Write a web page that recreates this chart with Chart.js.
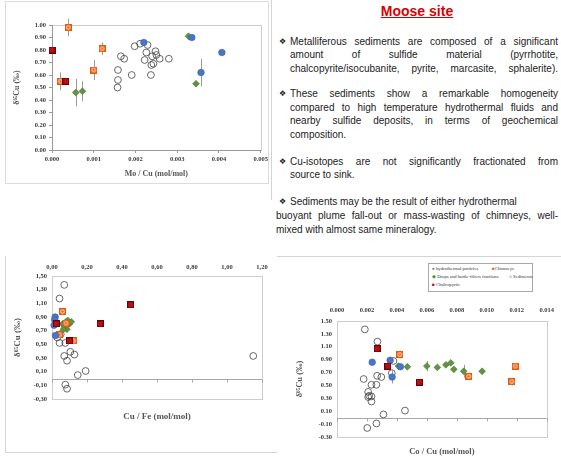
<!DOCTYPE html>
<html>
<head>
<meta charset="utf-8">
<script src="https://cdn.jsdelivr.net/npm/chart.js"></script>
<style>
  body { margin: 0; width: 561px; height: 461px; overflow: hidden; position: relative; background: #fff;
         font-family: "Liberation Sans", Arial, sans-serif; color: #222; }
  .abs { position: absolute; }
  .rule { position: absolute; background: #d4d4d4; }
  .tl { position: absolute; font-size: 10px; line-height: 13px; white-space: nowrap; }
  .just { text-align: justify; text-align-last: justify; }
  .bul { position: absolute; left: 279px; font: 8px "DejaVu Sans", sans-serif; line-height: 13px; }
  #title { left: 280px; width: 274px; top: 3px; text-align: center; font: bold 14px "Liberation Sans", Arial, sans-serif;
           color: #d90000; text-decoration: underline; }
  #legend { left: 428px; top: 263px; width: 105px; height: 29px; box-sizing: border-box; border: 1px solid #a9a9a9;
            background: #fff; font: 4.7px "Liberation Serif", serif; color: #333; }
  #legend span { position: absolute; white-space: nowrap; }
  canvas { position: absolute; }
</style>
</head>
<body>

<!-- panel frames -->
<div class="abs" style="left:5px;top:1px;width:264px;height:183px;border:1px solid #dcdcdc;box-sizing:border-box"></div>
<div class="rule" style="left:271px;top:0;width:1px;height:200px"></div>
<div class="rule" style="left:5px;top:256px;width:1px;height:196px"></div>
<div class="rule" style="left:5px;top:452px;width:272px;height:1px"></div>
<div class="rule" style="left:277px;top:256px;width:284px;height:1px"></div>

<!-- text block -->
<div id="title" class="abs">Moose site</div>

<span class="bul" style="top:35px">❖</span>
<div class="tl just" style="left:290px;width:268px;top:35px">Metalliferous sediments are composed of a significant</div>
<div class="tl just" style="left:290px;width:268px;top:48px">amount of sulfide material (pyrrhotite,</div>
<div class="tl just" style="left:290px;width:268px;top:62px">chalcopyrite/isocubanite, pyrite, marcasite, sphalerite).</div>

<span class="bul" style="top:87px">❖</span>
<div class="tl just" style="left:290px;width:268px;top:87px">These sediments show a remarkable homogeneity</div>
<div class="tl just" style="left:290px;width:268px;top:101px">compared to high temperature hydrothermal fluids and</div>
<div class="tl just" style="left:290px;width:268px;top:114px">nearby sulfide deposits, in terms of geochemical</div>
<div class="tl" style="left:290px;top:128px">composition.</div>

<span class="bul" style="top:155px">❖</span>
<div class="tl just" style="left:290px;width:268px;top:155px">Cu-isotopes are not significantly fractionated from</div>
<div class="tl" style="left:290px;top:168px">source to sink.</div>

<span class="bul" style="top:195px">❖</span>
<div class="tl" style="left:290px;top:195px">Sediments may be the result of either hydrothermal</div>
<div class="tl just" style="left:276px;width:282px;top:209px">buoyant plume fall-out or mass-wasting of chimneys, well-</div>
<div class="tl" style="left:276px;top:223px">mixed with almost same mineralogy.</div>

<canvas id="moCuChart" width="265" height="181" style="left:5px;top:3px"></canvas>
<canvas id="cuFeChart" width="268" height="196" style="left:5px;top:256px"></canvas>
<canvas id="coCuChart" width="271" height="205" style="left:290px;top:256px"></canvas>

<div id="legend" class="abs">
  <span style="left:3px;top:2px"><b style="color:#4a74c6">●</b> hydrothermal particles</span>
  <span style="left:63px;top:2px"><b style="color:#f06a1e">■</b>Chimneys</span>
  <span style="left:3px;top:10px"><b style="color:#5f9440">◆</b> Drops and bottle-filters fractions</span>
  <span style="left:80px;top:10px">○ Sediments</span>
  <span style="left:3px;top:18px"><b style="color:#b01018">■</b> Chalcopyrite</span>
</div>

<script>
// ---- Mo / Cu panel: [x, y, error]
const moCuHydro = [[0.0022, 0.86, 0], [0.00335, 0.90, 0.02], [0.00357, 0.62, 0.11], [0.00407, 0.78, 0]];
const moCuChimneys = [[0.0002, 0.55, 0.07], [0.00039, 0.98, 0.07], [0.001, 0.64, 0.08], [0.0012, 0.81, 0.05]];
const moCuDrops = [[0.00057, 0.46, 0.11], [0.00073, 0.47, 0.08], [0.00327, 0.91, 0.02], [0.00345, 0.53, 0]];
const moCuSediments = [[0.00158, 0.64], [0.00158, 0.56], [0.00157, 0.50], [0.00165, 0.75], [0.00173, 0.73],
  [0.00191, 0.60], [0.00198, 0.83], [0.00211, 0.85], [0.00229, 0.84], [0.00226, 0.78], [0.00222, 0.72],
  [0.00237, 0.60], [0.00238, 0.68], [0.00243, 0.69], [0.0024, 0.75], [0.00248, 0.79], [0.0025, 0.76],
  [0.00258, 0.73], [0.0028, 0.73]];
const moCuChalco = [[0, 0.80, 0], [0.00033, 0.55, 0]];
const moCuXTicks = [0, 0.001, 0.002, 0.003, 0.004, 0.005];
const moCuYTicks = [0, 0.1, 0.2, 0.3, 0.4, 0.5, 0.6, 0.7, 0.8, 0.9, 1.0];

// ---- Cu / Fe panel
const cuFeHydro = [[0.018, 0.90], [0.015, 0.86], [0.012, 0.78], [0.02, 0.63]];
const cuFeChimneys = [[0.06, 0.98], [0.124, 0.55], [0.043, 0.64], [0.08, 0.81]];
const cuFeDrops = [[0.06, 0.80], [0.07, 0.77], [0.08, 0.83], [0.09, 0.85], [0.10, 0.80], [0.11, 0.83],
  [0.075, 0.75], [0.085, 0.72], [0.065, 0.72]];
const cuFeSediments = [[0.07, 1.37], [0.043, 1.17], [0.043, 0.52], [0.076, 0.52], [0.07, 0.33], [0.086, 0.26],
  [0.105, 0.39], [0.128, 0.35], [0.147, 0.05], [0.192, 0.11], [0.076, -0.09], [0.086, -0.15], [1.15, 0.33],
  [0.03, 0.60], [0.05, 0.65]];
const cuFeChalco = [[0.275, 0.80], [0.45, 1.08], [0.10, 0.55], [0.025, 0.80]];
const cuFeXTicks = [0, 0.2, 0.4, 0.6, 0.8, 1.0, 1.2];
const cuFeYTicks = [-0.3, -0.1, 0.1, 0.3, 0.5, 0.7, 0.9, 1.1, 1.3, 1.5];

// ---- Co / Cu panel
const coCuHydro = [[0.00235, 0.86, 0], [0.00355, 0.89, 0.03], [0.00368, 0.63, 0.10], [0.00423, 0.79, 0]];
const coCuChimneys = [[0.00419, 0.98, 0.06], [0.0088, 0.64, 0.06], [0.0119, 0.80, 0.05], [0.01167, 0.56, 0.06]];
const coCuDrops = [[0.0041, 0.80, 0], [0.0047, 0.79, 0], [0.006, 0.80, 0.08], [0.0067, 0.78, 0],
  [0.00727, 0.82, 0.04], [0.0076, 0.85, 0], [0.0078, 0.75, 0], [0.00846, 0.72, 0.1], [0.00969, 0.72, 0]];
const coCuSediments = [[0.00186, 1.37], [0.0027, 1.18], [0.00178, 0.60], [0.0023, 0.51], [0.00263, 0.51],
  [0.00268, 0.65], [0.00296, 0.63], [0.00366, 0.69], [0.00377, 0.88], [0.00208, 0.40], [0.00215, 0.34],
  [0.00208, 0.32], [0.0023, 0.33], [0.0023, 0.25], [0.0031, 0.05], [0.00454, 0.11], [0.00202, -0.16],
  [0.00263, -0.09]];
const coCuChalco = [[0.00268, 1.07], [0.0034, 0.80], [0.0055, 0.55]];
const coCuXTicks = [0, 0.002, 0.004, 0.006, 0.008, 0.010, 0.012, 0.014];
const coCuYTicks = [-0.3, -0.1, 0.1, 0.3, 0.5, 0.7, 0.9, 1.1, 1.3, 1.5];

const serif = '"Liberation Serif", "DejaVu Serif", serif';
const tickFont = { family: serif, weight: 'bold', size: 6.5 };
const tickColor = '#3a3a3a';
const yTitle = 'δ⁶⁵Cu (‰)';

function squareMarker(size, fill, stroke, ring) {
    const c = document.createElement('canvas');
    c.width = c.height = size;
    const g = c.getContext('2d');
    g.fillStyle = fill;
    g.fillRect(0, 0, size, size);
    g.strokeStyle = stroke;
    g.lineWidth = 1;
    g.strokeRect(0.5, 0.5, size - 1, size - 1);
    if (ring) {
        g.strokeStyle = ring;
        g.beginPath();
        g.arc(size / 2, size / 2, size * 0.26, 0, Math.PI * 2);
        g.stroke();
    }
    return c;
}
const chimneyImg = squareMarker(7, '#f06a1e', '#e05a10', '#ffd9bd');
const chalcoImg = squareMarker(7, '#b51119', '#6e0000', null);

const pts = rows => rows.map(r => ({ x: r[0], y: r[1] }));
const errs = rows => rows.map(r => r[2] || 0);
const fixedTicks = values => scale => { scale.ticks = values.map(v => ({ value: v })); };

function seriesSet(hydro, chim, drops, sed, chalco) {
    const base = { xAxisID: 'x', yAxisID: 'y', clip: false, showLine: false };
    return [
        { ...base, label: 'Chalcopyrite', data: pts(chalco), errors: errs(chalco), order: 0, pointStyle: chalcoImg },
        { ...base, label: 'hydrothermal particles', data: pts(hydro), errors: errs(hydro), order: 1,
          pointStyle: 'circle', pointRadius: 3.3, backgroundColor: '#4a74c6', borderColor: '#3b62ab', borderWidth: 0.6 },
        { ...base, label: 'Chimneys', data: pts(chim), errors: errs(chim), order: 2, pointStyle: chimneyImg },
        { ...base, label: 'Drops and bottle-filters fractions', data: pts(drops), errors: errs(drops), order: 3,
          pointStyle: 'rectRot', pointRadius: 3.4, backgroundColor: '#5f9440', borderColor: '#4a7a30', borderWidth: 0.6 },
        { ...base, label: 'Sediments', data: pts(sed), errors: errs(sed), order: 4,
          pointStyle: 'circle', pointRadius: 3.4, backgroundColor: 'rgba(255,255,255,0)', borderColor: '#444', borderWidth: 0.8 }
    ];
}

// gray error bars behind the markers
const errorBars = {
    id: 'errorBars',
    beforeDatasetsDraw(chart) {
        const ctx = chart.ctx, ys = chart.scales.y;
        ctx.save();
        ctx.strokeStyle = '#9a9a9a';
        ctx.lineWidth = 1;
        chart.data.datasets.forEach((ds, i) => {
            const meta = chart.getDatasetMeta(i);
            (ds.errors || []).forEach((e, j) => {
                if (!e) return;
                const p = meta.data[j], v = ds.data[j].y;
                const x = Math.round(p.x) + 0.5;
                ctx.beginPath();
                ctx.moveTo(x, ys.getPixelForValue(v + e));
                ctx.lineTo(x, ys.getPixelForValue(v - e));
                ctx.stroke();
            });
        });
        ctx.restore();
    }
};

// plot area frame
const frame = {
    id: 'frame',
    beforeDraw(chart) {
        const { left, right, top, bottom } = chart.chartArea;
        const ctx = chart.ctx;
        ctx.save();
        ctx.strokeStyle = '#cdcdcd';
        ctx.lineWidth = 1;
        ctx.strokeRect(Math.round(left) + 0.5, Math.round(top) + 0.5, Math.round(right - left), Math.round(bottom - top));
        ctx.restore();
    }
};

// horizontal axis line at zero, with tick marks
const zeroLine = {
    id: 'zeroLine',
    beforeDatasetsDraw(chart) {
        const { left, right } = chart.chartArea;
        const xs = chart.scales.x, y0 = Math.round(chart.scales.y.getPixelForValue(0)) + 0.5;
        const ctx = chart.ctx;
        ctx.save();
        ctx.strokeStyle = '#a8a8a8';
        ctx.lineWidth = 1;
        ctx.beginPath();
        ctx.moveTo(left, y0);
        ctx.lineTo(right, y0);
        xs.ticks.forEach(t => {
            const x = Math.round(xs.getPixelForValue(t.value)) + 0.5;
            ctx.moveTo(x, y0);
            ctx.lineTo(x, y0 + 3);
        });
        ctx.stroke();
        ctx.restore();
    }
};

const common = {
    responsive: false,
    animation: false,
    devicePixelRatio: 1,
    events: [],
    plugins: { legend: { display: false }, tooltip: { enabled: false } }
};

const noGrid = { display: false, drawTicks: false, tickLength: 0 };

// Mo / Cu
new Chart(document.getElementById('moCuChart'), {
    type: 'scatter',
    data: { datasets: seriesSet(moCuHydro, moCuChimneys, moCuDrops, moCuSediments, moCuChalco) },
    options: {
        ...common,
        layout: { padding: { top: 22, right: 9, left: 0, bottom: 0 } },
        scales: {
            x: {
                type: 'linear', position: 'bottom', min: 0, max: 0.005,
                afterBuildTicks: fixedTicks(moCuXTicks),
                afterFit: s => { s.height = 34; },
                ticks: { font: tickFont, color: tickColor, padding: 2, autoSkip: false, maxRotation: 0,
                         callback: v => v.toFixed(3) },
                grid: { drawOnChartArea: false, tickLength: 3, color: '#999' },
                border: { color: '#999' },
                title: { display: true, text: 'Mo / Cu (mol/mol)', color: '#555',
                         font: { family: serif, weight: 'bold', size: 8 }, padding: { top: 0, bottom: 5 } }
            },
            y: {
                type: 'linear', min: 0, max: 1,
                afterBuildTicks: fixedTicks(moCuYTicks),
                afterFit: s => { s.width = 47; },
                ticks: { font: tickFont, color: tickColor, padding: 3, autoSkip: false,
                         callback: v => v.toFixed(2) },
                grid: { drawOnChartArea: false, tickLength: 3, color: '#999' },
                border: { color: '#999' },
                title: { display: true, text: yTitle, color: '#555',
                         font: { family: serif, weight: 'bold', size: 8 }, padding: { top: 7, bottom: 0 } }
            }
        }
    },
    plugins: [frame, errorBars]
});

// Cu / Fe
new Chart(document.getElementById('cuFeChart'), {
    type: 'scatter',
    data: { datasets: seriesSet(cuFeHydro, cuFeChimneys, cuFeDrops, cuFeSediments, cuFeChalco) },
    options: {
        ...common,
        layout: { padding: { top: 0, right: 11, left: 0, bottom: 0 } },
        scales: {
            x: {
                type: 'linear', position: 'top', min: 0, max: 1.2,
                afterBuildTicks: fixedTicks(cuFeXTicks),
                afterFit: s => { s.height = 20; },
                ticks: { font: tickFont, color: tickColor, padding: 5, autoSkip: false, maxRotation: 0,
                         callback: v => v.toFixed(2).replace('.', ',') },
                grid: noGrid,
                border: { display: false }
            },
            xb: {
                axis: 'x', type: 'linear', position: 'bottom',
                afterFit: s => { s.height = 53; },
                ticks: { display: false }, grid: noGrid, border: { display: false },
                title: { display: true, text: 'Cu / Fe (mol/mol)', color: '#555',
                         font: { family: serif, weight: 'bold', size: 9 }, padding: { top: 0, bottom: 30 } }
            },
            y: {
                type: 'linear', min: -0.3, max: 1.5,
                afterBuildTicks: fixedTicks(cuFeYTicks),
                afterFit: s => { s.width = 47; },
                ticks: { font: tickFont, color: tickColor, padding: 5, autoSkip: false,
                         callback: v => v.toFixed(2).replace('.', ',') },
                grid: noGrid,
                border: { color: '#cdcdcd' },
                title: { display: true, text: yTitle, color: '#555',
                         font: { family: serif, weight: 'bold', size: 9 }, padding: { top: 7, bottom: 0 } }
            }
        }
    },
    plugins: [frame, zeroLine, errorBars]
});

// Co / Cu
new Chart(document.getElementById('coCuChart'), {
    type: 'scatter',
    data: { datasets: seriesSet(coCuHydro, coCuChimneys, coCuDrops, coCuSediments, coCuChalco) },
    options: {
        ...common,
        layout: { padding: { top: 0, right: 9, left: 0, bottom: 0 } },
        scales: {
            x: {
                type: 'linear', position: 'top', min: 0, max: 0.014,
                afterBuildTicks: fixedTicks(coCuXTicks),
                afterFit: s => { s.height = 65; },
                ticks: { font: tickFont, color: tickColor, padding: 7, autoSkip: false, maxRotation: 0,
                         callback: v => v.toFixed(3) },
                grid: noGrid,
                border: { display: false }
            },
            xb: {
                axis: 'x', type: 'linear', position: 'bottom',
                afterFit: s => { s.height = 24; },
                ticks: { display: false }, grid: noGrid, border: { display: false },
                title: { display: true, text: 'Co / Cu (mol/mol)', color: '#555',
                         font: { family: serif, weight: 'bold', size: 8.5 }, padding: { top: 0, bottom: 4 } }
            },
            y: {
                type: 'linear', min: -0.3, max: 1.5,
                afterBuildTicks: fixedTicks(coCuYTicks),
                afterFit: s => { s.width = 47; },
                ticks: { font: tickFont, color: tickColor, padding: 5, autoSkip: false,
                         callback: v => v.toFixed(2) },
                grid: noGrid,
                border: { color: '#cdcdcd' },
                title: { display: true, text: yTitle, color: '#555',
                         font: { family: serif, weight: 'bold', size: 8.5 }, padding: { top: 5, bottom: 0 } }
            }
        }
    },
    plugins: [frame, zeroLine, errorBars]
});
</script>
</body>
</html>
